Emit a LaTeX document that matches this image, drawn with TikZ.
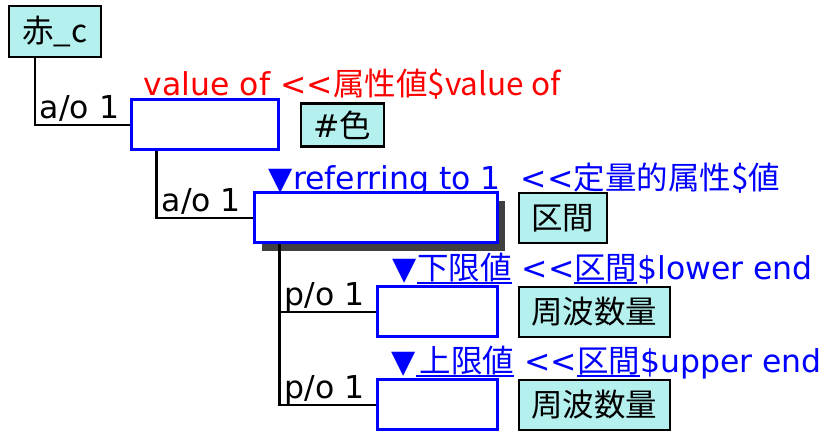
\documentclass[tikz,border=0pt]{standalone}
\usepackage{fontspec}
\setmainfont{DejaVu Sans}
\newfontfamily\cjk{Noto Sans CJK JP}
\usepackage{xcolor}
\usetikzlibrary{positioning,shadows,backgrounds}
\definecolor{termcyan}{RGB}{180,240,238}
\definecolor{slotblue}{RGB}{0,0,255}
\definecolor{valred}{RGB}{255,0,0}
\definecolor{shadegray}{RGB}{64,64,64}
\newsavebox{\lnkbox}
\newcommand{\ulink}[1]{\sbox{\lnkbox}{#1}\rlap{\rule[-0.15em]{\wd\lnkbox}{0.07em}}\usebox{\lnkbox}}
\newcommand{\dlt}{<\kern0pt<}

\begin{document}
\begin{tikzpicture}[
    x=0.5pt, y=-0.5pt,
    every node/.style={font=\fontsize{15.75pt}{19pt}\selectfont, inner sep=0pt},
    term/.style={rectangle, draw=black, line width=1.3pt, fill=termcyan,
                 minimum height=25pt},
    slot/.style={rectangle, draw=slotblue, line width=1.5pt, fill=white,
                 minimum height=25pt},
    link/.style={line width=1.2pt, black},
    rolelbl/.style={anchor=base west, pos=0.5, xshift=2pt, yshift=3.2pt},
    slotlbl/.style={anchor=base west, text=slotblue},
  ]
  \useasboundingbox (0,0) rectangle (826,432);

  \node[term, minimum width=46pt, minimum height=25.5pt] (aka) at (55,31.5) {\cjk{赤}\_c};

  \node[slot, minimum width=73.5pt]  (v1) at (204.5,125) {};
  \node[term, minimum width=41.5pt, minimum height=21.5pt, right=10pt of v1] (iro) {\#\cjk{色}};

  \node[slot, minimum width=121.5pt, drop shadow={shadow xshift=4pt, shadow yshift=-4pt,
        fill=shadegray, opacity=1}] (v2) at (375.5,218) {};
  \node[term, minimum width=44pt, right=9.5pt of v2] (kukan) {\cjk{区間}};

  \node[slot, minimum width=60pt]    (v3) at (437,312) {};
  \node[term, minimum width=75.5pt, right=9.5pt of v3] (shu1) {\cjk{周波数量}};

  \node[slot, minimum width=60pt]    (v4) at (437,405) {};
  \node[term, minimum width=75.5pt, right=9.5pt of v4] (shu2) {\cjk{周波数量}};

  % slot headings
  \begin{scope}[on background layer]
    \node[anchor=base west, text=valred] (v1lbl) at ([shift={(14,-3)}]v1.north west)
      {value of \dlt\cjk{属性値}\$value of};
    \node[slotlbl] (v2lbl) at ([shift={(16,-2)}]v2.north west)
      {▼referring to 1~~\dlt\cjk{定量的属性}\$\cjk{値}};
    \node[slotlbl] (v3lbl) at ([shift={(17,-6)}]v3.north west)
      {▼\ulink{\cjk{下限値}} \dlt\ulink{\cjk{区間}}\$lower end};
    \node[slotlbl] (v4lbl) at ([shift={(16,-6)}]v4.north west)
      {▼\ulink{\hspace{0.12em}\cjk{上限値}} \dlt\ulink{\cjk{区間}}\$upper end};
  \end{scope}

  \draw[link] ([xshift=13.5pt]aka.south west) |- node[rolelbl] {a/o 1} (v1.west);
  \draw[link] ([xshift=13.5pt]v1.south west)  |- node[rolelbl] {a/o 1} (v2.west);
  \draw[link] ([xshift=13.5pt]v2.south west)  |- node[rolelbl] {p/o 1} (v3.west);
  \draw[link] ([xshift=13.5pt]v2.south west)  |- node[rolelbl] {p/o 1} (v4.west);
\end{tikzpicture}
\end{document}
